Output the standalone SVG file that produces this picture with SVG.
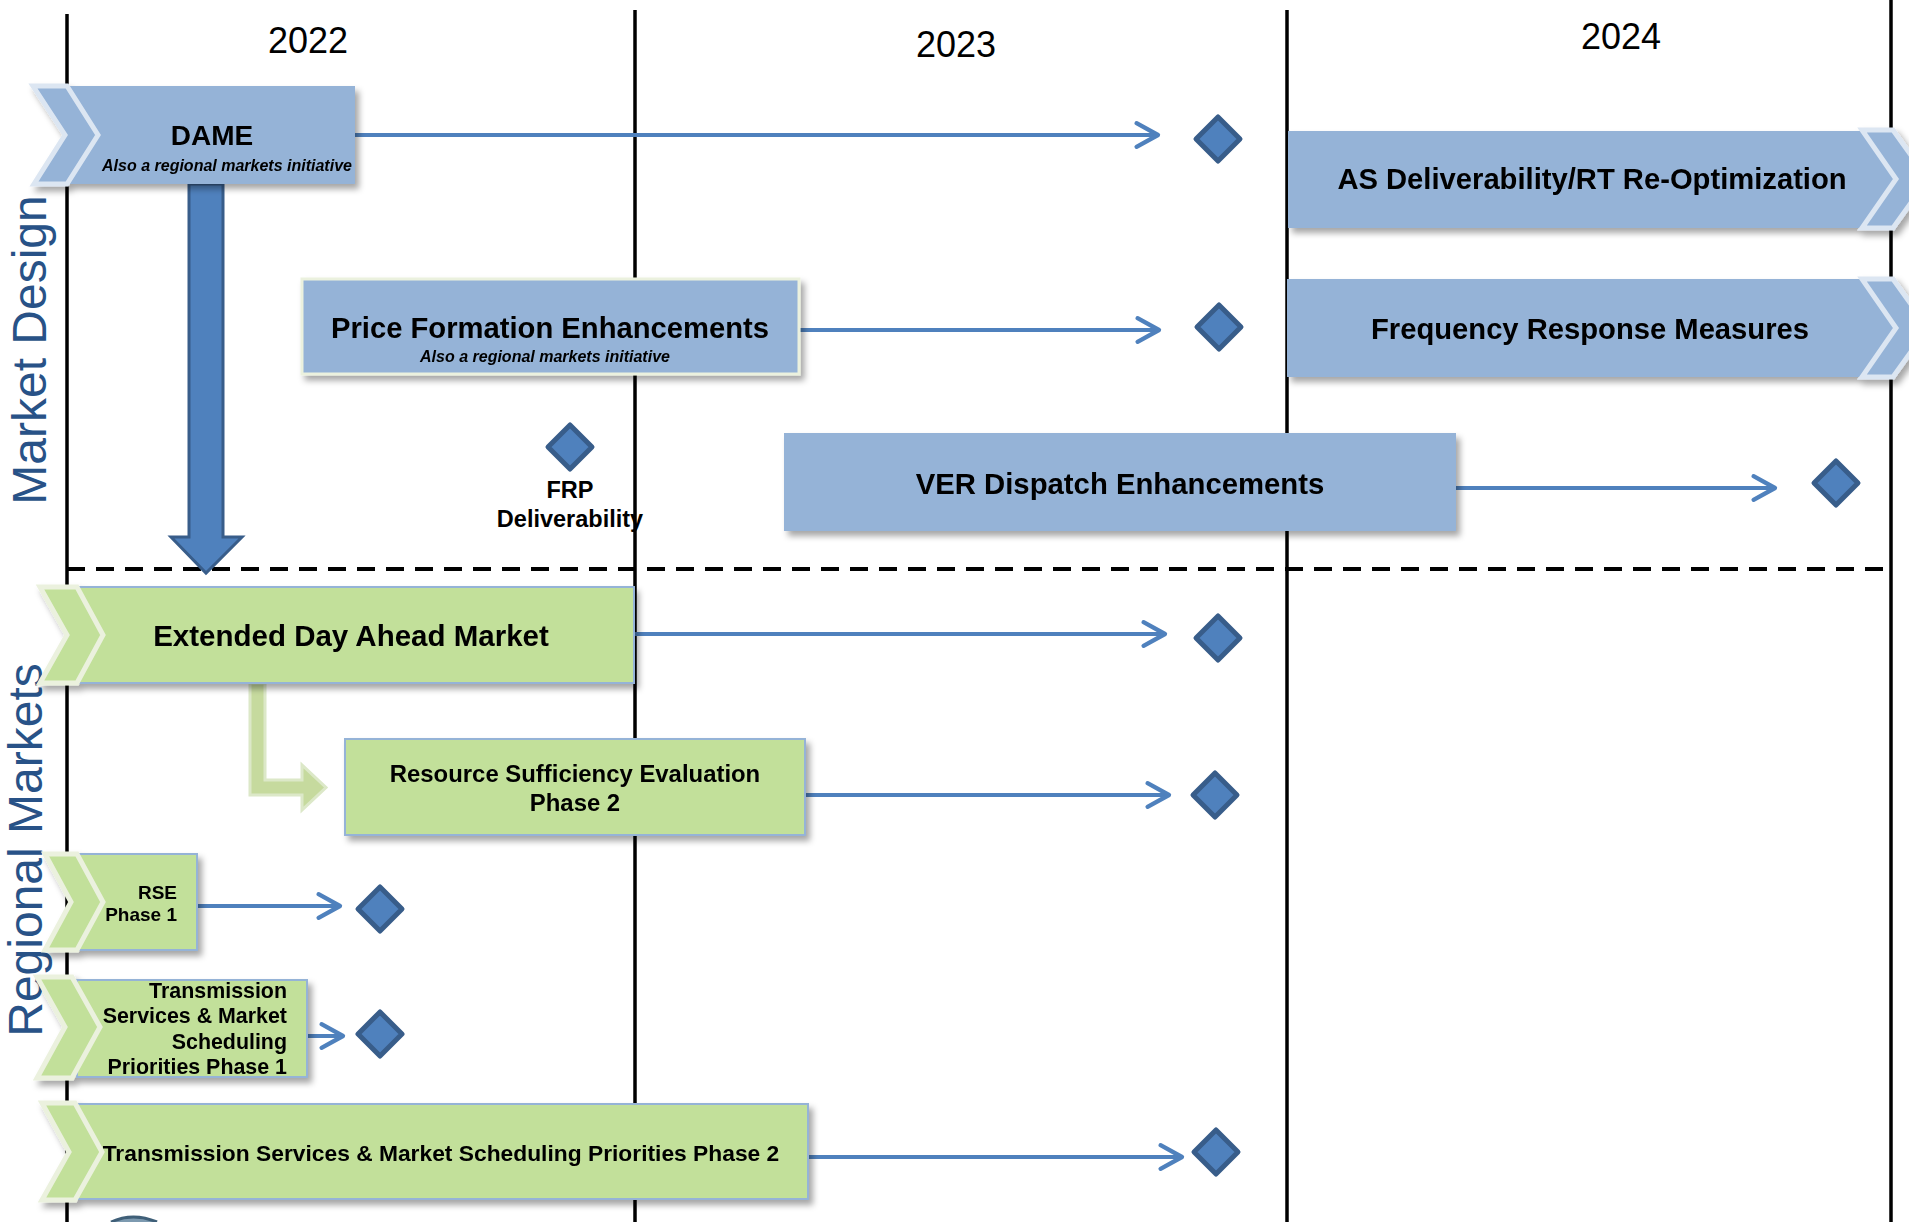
<svg xmlns="http://www.w3.org/2000/svg" width="1909" height="1222" viewBox="0 0 1909 1222">
<style>
text{font-family:"Liberation Sans",Arial,sans-serif;fill:#000}
.b{font-weight:bold}
.bi{font-weight:bold;font-style:italic;font-size:16px}
.yr{font-size:36px;text-anchor:middle}
.side{font-size:48px;fill:#285287;text-anchor:middle}
.c{text-anchor:middle}
.e{text-anchor:end}
.grid{stroke:#000;stroke-width:3.5;fill:none}
.dash{stroke:#000;stroke-width:4;stroke-dasharray:18 11;fill:none}
.blue{fill:#95B3D7}
.green{fill:#C2E09A;stroke:#95B3D7;stroke-width:2}
.chevB{fill:#95B3D7;stroke:#DCE6F2;stroke-width:5;stroke-linejoin:miter}
.chevG{fill:#C2E09A;stroke:#EBF1DE;stroke-width:5;stroke-linejoin:miter}
.conn{stroke:#4F81BD;stroke-width:4;fill:none;marker-end:url(#ah)}
.dia{fill:#4F81BD;stroke:#385D8A;stroke-width:5;stroke-linejoin:round}
</style>
<defs>
<filter id="sh" x="-10%" y="-20%" width="125%" height="150%">
<feDropShadow dx="4" dy="5" stdDeviation="3" flood-color="#000" flood-opacity="0.35"/>
</filter>
<marker id="ah" markerUnits="userSpaceOnUse" markerWidth="30" markerHeight="30" viewBox="-24 -14 28 28" refX="0" refY="0" orient="auto" overflow="visible">
<path d="M-20,-11 L0,0 L-20,11" fill="none" stroke="#4F81BD" stroke-width="4" stroke-linecap="round" stroke-linejoin="round"/>
</marker>
<path id="dm" d="M0,-22 L22,0 L0,22 L-22,0 Z"/>
</defs>
<rect x="0" y="0" width="1909" height="1222" fill="#fff"/>

<g id="grid">
<line class="grid" x1="67" y1="14" x2="67" y2="1222"/>
<line class="grid" x1="635" y1="10" x2="635" y2="1222"/>
<line class="grid" x1="1287" y1="10" x2="1287" y2="1222"/>
<line class="grid" x1="1891" y1="0" x2="1891" y2="1222"/>
<line class="dash" x1="67" y1="569" x2="1891" y2="569"/>
<text class="yr" x="308" y="53">2022</text>
<text class="yr" x="956" y="57">2023</text>
<text class="yr" x="1621" y="49">2024</text>
<text class="side" transform="translate(46,350) rotate(-90)">Market Design</text>
<text class="side" transform="translate(42,850) rotate(-90)">Regional Markets</text>
<path d="M111,1222 Q133,1212 157,1222" fill="#7d9ab0" stroke="#3f5f78" stroke-width="3"/>
</g>

<g id="connectors">
<line class="conn" x1="355" y1="135" x2="1158" y2="135"/>
<line class="conn" x1="799" y1="330" x2="1159" y2="330"/>
<line class="conn" x1="1456" y1="488" x2="1775" y2="488"/>
<line class="conn" x1="634" y1="634" x2="1165" y2="634"/>
<line class="conn" x1="805" y1="795" x2="1169" y2="795"/>
<line class="conn" x1="197" y1="906" x2="340" y2="906"/>
<line class="conn" x1="307" y1="1036" x2="343" y2="1036"/>
<line class="conn" x1="808" y1="1157" x2="1182" y2="1157"/>
<polygon points="189,184 223,184 223,537 242,537 206,573 171,537 189,537" fill="#4F81BD" stroke="#385D8A" stroke-width="3" stroke-linejoin="miter"/>
<polygon points="250,683 265,683 265,780 302,780 302,765 326,787.5 302,810 302,795 250,795" fill="#C6DA9E" stroke="#DCE8C8" stroke-width="3"/>
</g>

<g id="milestones">
<use href="#dm" class="dia" x="1218" y="139"/>
<use href="#dm" class="dia" x="1219" y="327"/>
<use href="#dm" class="dia" x="1836" y="483"/>
<use href="#dm" class="dia" x="570" y="447"/>
<use href="#dm" class="dia" x="1218" y="638"/>
<use href="#dm" class="dia" x="1215" y="795"/>
<use href="#dm" class="dia" x="380" y="909"/>
<use href="#dm" class="dia" x="380" y="1034"/>
<use href="#dm" class="dia" x="1216" y="1152"/>
</g>

<g id="dame" filter="url(#sh)">
<rect class="blue" x="68" y="86" width="287" height="98"/>
<polygon class="chevB" points="33,86 67,86 98,135 67,184 34,184 65,135"/>
<text class="b c" x="212" y="145" font-size="28">DAME</text>
<text class="bi c" x="227" y="171">Also a regional markets initiative</text>
</g>

<g id="price-formation" filter="url(#sh)">
<rect class="blue" x="302" y="279" width="497" height="95" stroke="#EBF1DE" stroke-width="3"/>
<text class="b c" x="550" y="338" font-size="29.2">Price Formation Enhancements</text>
<text class="bi c" x="545" y="362">Also a regional markets initiative</text>
</g>

<g id="frp">
<text class="b c" x="570" y="498" font-size="23.5">FRP</text>
<text class="b c" x="570" y="527" font-size="23.5">Deliverability</text>
</g>

<g id="as-deliverability" filter="url(#sh)">
<rect class="blue" x="1288" y="131" width="605" height="97"/>
<polygon class="chevB" points="1862,130 1893,130 1928,179 1893,228 1862,228 1896,179"/>
<text class="b c" x="1592" y="189" font-size="29.2">AS Deliverability/RT Re-Optimization</text>
</g>

<g id="frequency-response" filter="url(#sh)">
<rect class="blue" x="1287" y="279" width="606" height="98"/>
<polygon class="chevB" points="1862,279 1893,279 1928,328 1893,377 1862,377 1896,328"/>
<text class="b c" x="1590" y="339" font-size="29.2">Frequency Response Measures</text>
</g>

<g id="ver-dispatch" filter="url(#sh)">
<rect class="blue" x="784" y="433" width="672" height="98"/>
<text class="b c" x="1120" y="494" font-size="29.3">VER Dispatch Enhancements</text>
</g>

<g id="edam" filter="url(#sh)">
<rect class="green" x="70" y="587" width="564" height="96"/>
<polygon class="chevG" points="40,587 77,587 103,635 77,683 40,683 67,635"/>
<text class="b c" x="351" y="646" font-size="29.5">Extended Day Ahead Market</text>
</g>

<g id="rse-phase2" filter="url(#sh)">
<rect class="green" x="345" y="739" width="460" height="96"/>
<text class="b c" x="575" y="782" font-size="23.9">Resource Sufficiency Evaluation</text>
<text class="b c" x="575" y="811" font-size="23.9">Phase 2</text>
</g>

<g id="rse-phase1" filter="url(#sh)">
<rect class="green" x="70" y="854" width="127" height="96"/>
<polygon class="chevG" points="45,854 77,854 103,902 77,950 45,950 71,902"/>
<text class="b e" x="177" y="899" font-size="19">RSE</text>
<text class="b e" x="177" y="921" font-size="19">Phase 1</text>
</g>

<g id="tsmsp-phase1" filter="url(#sh)">
<rect class="green" x="77" y="980" width="230" height="97"/>
<polygon class="chevG" points="37,977 72,977 100,1027 72,1078 37,1078 65,1027"/>
<text class="b e" x="287" y="998" font-size="21.4">Transmission</text>
<text class="b e" x="287" y="1023" font-size="21.4">Services &amp; Market</text>
<text class="b e" x="287" y="1049" font-size="21.4">Scheduling</text>
<text class="b e" x="287" y="1074" font-size="21.4">Priorities Phase 1</text>
</g>

<g id="tsmsp-phase2" filter="url(#sh)">
<rect class="green" x="75" y="1104" width="733" height="95"/>
<polygon class="chevG" points="42,1103 75,1103 102,1152 75,1200 42,1200 69,1152"/>
<text class="b c" x="441" y="1161" font-size="22.8">Transmission Services &amp; Market Scheduling Priorities Phase 2</text>
</g>
</svg>
